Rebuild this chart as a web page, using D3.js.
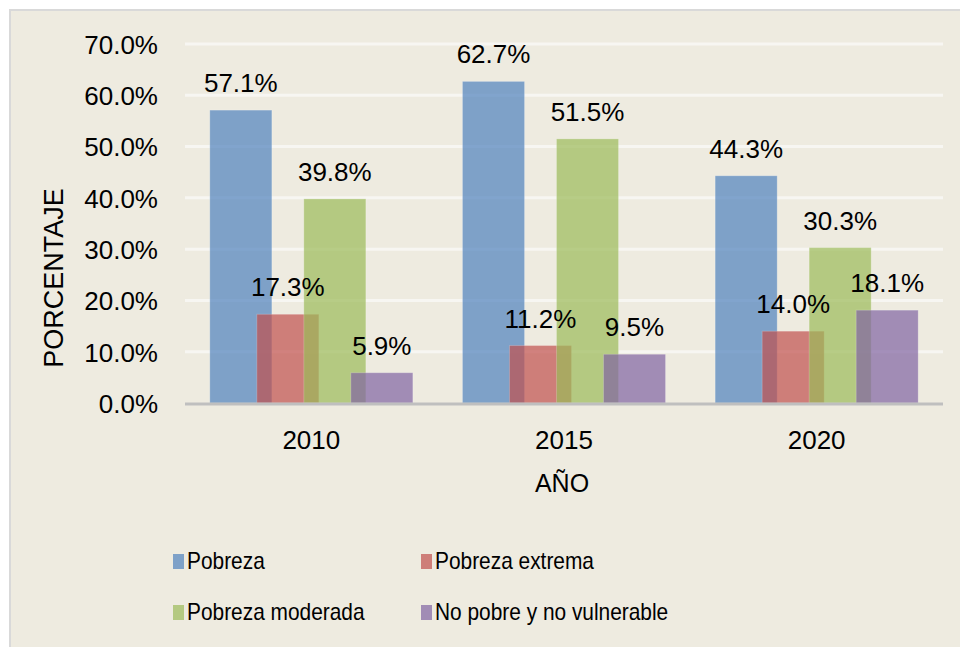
<!DOCTYPE html>
<html><head><meta charset="utf-8">
<script src="https://cdn.jsdelivr.net/npm/d3@7"></script>
<style>
html,body{margin:0;padding:0;background:#fff;}
svg{display:block;font-family:"Liberation Sans",Arial,sans-serif;}
</style></head>
<body><svg id="c" width="960" height="647"></svg>
<script>
const years = ["2010","2015","2020"];
const seriesNames = ["Pobreza","Pobreza extrema","Pobreza moderada","No pobre y no vulnerable"];
const pobreza = [57.1, 62.7, 44.3];
const pobrezaExtrema = [17.3, 11.2, 14.0];
const pobrezaModerada = [39.8, 51.5, 30.3];
const noPobre = [5.9, 9.5, 18.1];
const yTicks = [0,10,20,30,40,50,60,70];
const colors = ["#4F81BD","#C0504D","#9BBB59","#8064A2"];
const values = [pobreza, pobrezaExtrema, pobrezaModerada, noPobre];

const svg = d3.select("#c");
// background box
svg.append("rect").attr("x",10).attr("y",10).attr("width",960).attr("height",647)
  .attr("fill","#EEEBE0").attr("stroke","#D9D9D9").attr("stroke-width",2);

const x = d3.scaleBand().domain(years).range([185,943]).padding(0);
const y = d3.scaleLinear().domain([0,70]).range([403,44]);
const xs = d3.scalePoint().domain(seriesNames).range([-70.5,70.5]);
const barW = 62;

// gridlines
svg.append("g").selectAll("line").data(yTicks.filter(d=>d>0)).join("line")
  .attr("x1",185).attr("x2",943).attr("y1",d=>y(d)).attr("y2",d=>y(d))
  .attr("stroke","#F7F6F2").attr("stroke-width",3);

// y axis tick labels
const yAxis = d3.axisLeft(y).tickValues(yTicks).tickSize(0).tickPadding(0)
  .tickFormat(d=>d3.format(".1f")(d)+"%");
const ga = svg.append("g").attr("transform","translate(158,0)").call(yAxis);
ga.select(".domain").remove();
ga.selectAll("text").attr("font-size",26).attr("fill","#000")
  .attr("font-family","'Liberation Sans',Arial,sans-serif").attr("dy","0.36em");

// bars
seriesNames.forEach((s,i)=>{
  const g = svg.append("g");
  g.selectAll("rect").data(years.map((yr,j)=>({yr, v: values[i][j]}))).join("rect")
    .attr("x",d=>x(d.yr)+x.bandwidth()/2+xs(s)-barW/2)
    .attr("width",barW)
    .attr("y",d=>y(d.v))
    .attr("height",d=>y(0)-y(d.v))
    .attr("fill",colors[i]).attr("fill-opacity",0.7)
    .attr("stroke","#ffffff").attr("stroke-opacity",0.2).attr("stroke-width",1);
});

// baseline
svg.append("line").attr("x1",185).attr("x2",943).attr("y1",y(0)+1).attr("y2",y(0)+1)
  .attr("stroke","#BFBFBF").attr("stroke-width",3);

// data labels
seriesNames.forEach((s,i)=>{
  svg.append("g").selectAll("text").data(years.map((yr,j)=>({yr, v: values[i][j]}))).join("text")
    .attr("x",d=>x(d.yr)+x.bandwidth()/2+xs(s))
    .attr("y",d=>y(d.v)-18)
    .attr("text-anchor","middle").attr("font-size",26).attr("fill","#000")
    .text(d=>d3.format(".1f")(d.v)+"%");
});

// x axis labels
const xAxis = d3.axisBottom(x).tickSize(0).tickPadding(0);
const gx = svg.append("g").attr("transform","translate(0,449)").call(xAxis);
gx.select(".domain").remove();
gx.selectAll("text").attr("font-size",26).attr("fill","#000").attr("dy",0)
  .attr("font-family","'Liberation Sans',Arial,sans-serif");

// axis titles
svg.append("text").attr("x",562).attr("y",492).attr("text-anchor","middle")
  .attr("font-size",25).text("AÑO");
svg.append("text").attr("transform","translate(63,278) rotate(-90)").attr("text-anchor","middle")
  .attr("font-size",27).text("PORCENTAJE");

// legend
const legPos = [[173,569],[421,569],[173,620],[421,620]];
seriesNames.forEach((s,i)=>{
  const [lx,ly] = legPos[i];
  svg.append("rect").attr("x",lx).attr("y",ly-15).attr("width",11).attr("height",15)
    .attr("fill",colors[i]).attr("fill-opacity",0.7);
  svg.append("text").attr("transform",`translate(${lx+14},${ly}) scale(0.87,1)`)
    .attr("font-size",24).attr("fill","#000").text(s);
});
</script></body></html>
